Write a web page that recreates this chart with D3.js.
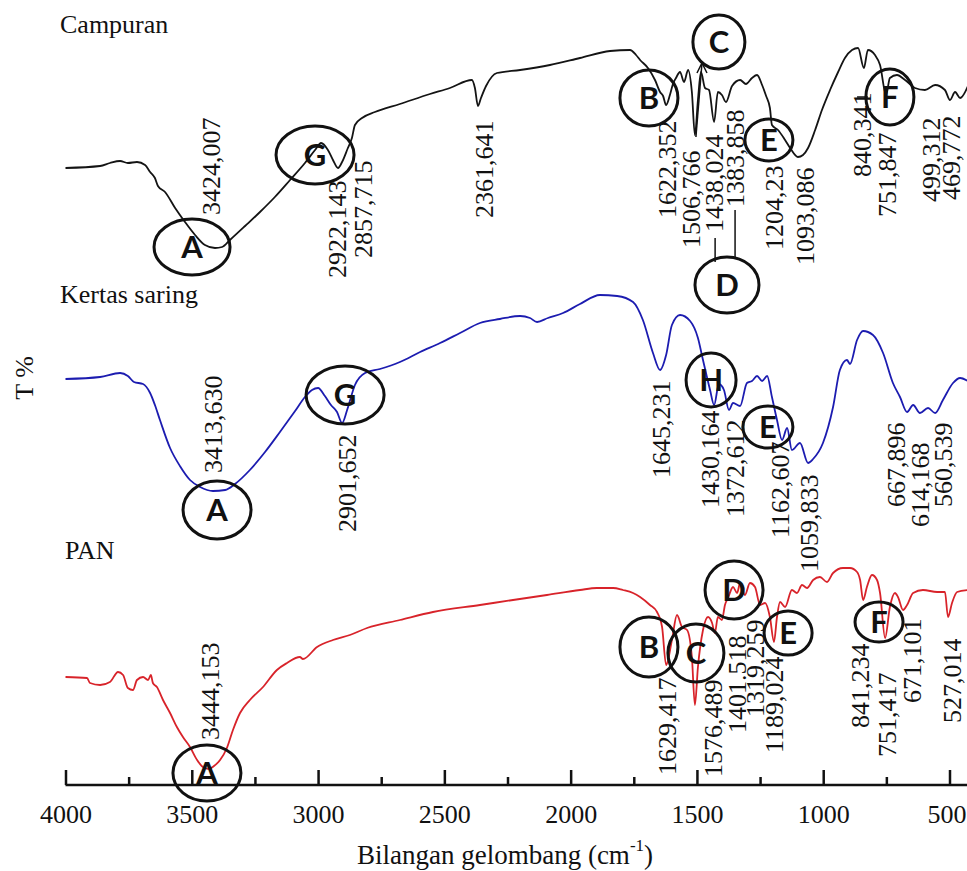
<!DOCTYPE html>
<html>
<head>
<meta charset="utf-8">
<script src="https://cdn.jsdelivr.net/npm/d3@7/dist/d3.min.js"></script>
<style>
  html, body { margin: 0; padding: 0; background: #fff; }
  svg { display: block; }
</style>
</head>
<body>
<div id="chart"></div>
<script>
// ---------------- DATA ----------------
const majorTicks = [4000, 3500, 3000, 2500, 2000, 1500, 1000, 500];
const minorTicks = [3750, 3250, 2750, 2250, 1750, 1250, 750];
const seriesNames = ["Campuran", "Kertas saring", "PAN"];

// Campuran (black) : wavenumber (cm-1) and transmittance (arbitrary, stacked)
const campuranWn = [4000,3863,3824,3784,3753,3717,3685,3665,3646,3634,3606,3566,3527,3487,3448,3408,3380,3349,3289,3230,3171,3111,3052,3012,2988,2961,2941,2921,2905,2882,2866,2854,2826,2775,2676,2557,2478,2391,2379,2367,2355,2335,2292,2200,2082,1963,1844,1765,1741,1725,1694,1666,1646,1634,1622,1607,1595,1583,1567,1551,1535,1520,1508,1496,1484,1468,1452,1432,1417,1401,1385,1361,1329,1306,1282,1262,1242,1226,1211,1203,1179,1151,1131,1100,1080,1060,1032,1005,973,941,914,886,862,839,823,795,775,751,736,708,676,637,597,557,518,498,478,458,427];
const campuranT  = [617,619,622,624,622,623,620,613,607,599,593,577,563,550,540,537,538,545,559,573,588,605,622,635,642,635,625,617,623,637,647,660,667,673,681,691,697,705,697,679,687,699,712,715,720,727,734,735,730,725,717,705,693,689,680,690,701,707,713,703,715,693,650,685,713,697,695,663,693,690,683,699,705,701,707,710,700,689,677,660,655,645,637,628,630,637,655,675,695,713,727,735,737,717,735,730,720,690,707,710,705,697,695,700,695,685,693,687,699];

// Kertas saring (blue)
const kertasWn = [4000,3863,3784,3753,3729,3693,3665,3646,3626,3586,3547,3507,3467,3416,3368,3329,3270,3210,3151,3091,3052,3024,3000,2973,2949,2925,2905,2885,2854,2814,2755,2676,2596,2517,2438,2359,2280,2200,2161,2133,2090,2030,1963,1884,1816,1753,1714,1674,1646,1622,1599,1567,1527,1496,1476,1448,1432,1413,1393,1373,1357,1329,1302,1282,1262,1242,1222,1203,1183,1163,1143,1124,1092,1060,1040,1001,961,934,906,894,866,842,803,763,724,696,668,644,617,585,557,526,486,458,427];
const kertasT  = [406,408,412,409,403,401,392,380,365,337,319,305,298,294,295,301,315,333,353,374,388,395,397,389,380,373,362,375,400,412,416,423,433,442,452,462,466,469,467,463,467,472,481,490,489,483,465,432,415,430,460,470,464,447,425,395,380,401,395,375,382,379,402,404,409,404,409,388,365,345,357,335,342,322,326,342,378,415,425,421,445,454,450,432,402,388,373,380,372,377,372,385,402,407,404];

// PAN (red)
const panWn = [4000,3915,3903,3863,3824,3792,3772,3753,3733,3717,3693,3673,3662,3654,3638,3614,3586,3559,3535,3507,3479,3456,3432,3412,3388,3361,3337,3309,3270,3218,3163,3123,3072,3060,3004,2941,2874,2806,2676,2545,2359,2228,2094,1963,1896,1832,1793,1753,1725,1686,1658,1638,1622,1599,1579,1559,1539,1520,1508,1496,1476,1456,1440,1429,1417,1401,1389,1377,1357,1341,1329,1310,1290,1270,1250,1230,1211,1195,1183,1171,1151,1124,1104,1084,1064,1040,1013,985,961,922,894,866,854,842,827,807,787,775,755,736,716,704,684,668,644,605,549,518,506,490,470,427];
const panT  = [108,107,102,100,103,113,110,97,95,105,108,105,110,102,98,85,72,58,48,38,25,18,16,19,25,37,55,72,85,98,115,122,128,126,138,145,150,157,165,173,180,185,190,195,197,197,195,192,188,180,173,158,120,145,170,158,155,128,80,118,155,168,162,152,168,165,180,187,198,192,202,190,202,198,180,182,168,143,168,183,178,195,192,200,197,205,208,203,212,217,217,213,205,185,198,210,205,192,147,178,192,188,175,180,192,195,193,193,168,182,193,195];

// Peak labels: [text, wavenumber, transmittance at label foot]
const campuranPeaks = [["3424,007",3420,570],["2922,143",2925,507],["2857,715",2822,527],["2361,641",2343,567],["1622,352",1618,567],["1506,766",1520,537],["1438,024",1429,553],["1383,858",1349,578],["1204,23",1191,535],["1093,086",1072,520],["840,341",846,608],["751,847",744,568],["499,312",572,583],["469,772",492,585]];
const kertasPeaks = [["3413,630",3416,312],["2901,652",2885,253],["1645,231",1642,307],["1430,164",1448,277],["1372,612",1349,268],["1162,607",1171,247],["1059,833",1056,213],["667,896",708,278],["614,168",613,258],["560,539",522,278]];
const panPeaks = [["3444,153",3424,45],["1629,417",1618,10],["1576,489",1436,8],["1401.518",1341,52],["1319,259",1270,68],["1189,024",1191,32],["841,234",854,57],["751,417",747,28],["671,101",648,82],["527,014",490,62]];

// Group markers: [letter, wavenumber, transmittance, rx, ry]
const campuranMarks = [["A",3499,538,38,28],["G",3012,630,39,29],["B",1690,687,29,28],["C",1413,743,26,27],["D",1381,500,32,28],["E",1215,645,24,21],["F",736,688,24,28]];
const kertasMarks = [["G",2893,390,39,29],["A",3400,275,34,29],["H",1444,405,25,27],["E",1219,358,25,21]];
const panMarks = [["A",3440,12,34,28],["B",1690,138,29,30],["C",1504,132,28,29],["D",1353,195,29,29],["E",1139,152,24,22],["F",779,163,24,20]];

// Leader lines: [wn1, T1, wn2, T2]
const leaders = [[1480,722,1504,648],[1428,547,1428,523],[1349,575,1349,527],[866,688,823,688]];

// ---------------- DRAW ----------------
const W = 967, H = 871;
const serif = "'Liberation Serif', 'Times New Roman', serif";
const sans = "Lato, 'Open Sans', sans-serif";

const svg = d3.select("#chart").append("svg")
  .attr("width", W).attr("height", H).attr("viewBox", `0 0 ${W} ${H}`);

const x = d3.scaleLinear().domain([4000, 500]).range([65.5, 949.5]);
const y = d3.scaleLinear().domain([0, 785]).range([785, 0]);

const line = d3.line()
  .x(d => x(d[0])).y(d => y(d[1]))
  .curve(d3.curveMonotoneX);

const traces = [
  {name: seriesNames[0], wn: campuranWn, t: campuranT, color: "#141414"},
  {name: seriesNames[1], wn: kertasWn, t: kertasT, color: "#1c1cb0"},
  {name: seriesNames[2], wn: panWn, t: panT, color: "#d8232a"}
];

traces.forEach(tr => {
  svg.append("path")
    .datum(tr.wn.map((w, i) => [w, tr.t[i]]))
    .attr("fill", "none")
    .attr("stroke", tr.color)
    .attr("stroke-width", 1.8)
    .attr("stroke-linejoin", "round")
    .attr("d", line);
});

// series names
const nameY = [33, 303, 559];
const nameX = [60, 60, 65];
seriesNames.forEach((n, i) => {
  svg.append("text").attr("x", nameX[i]).attr("y", nameY[i])
    .attr("font-family", serif).attr("font-size", 26).attr("fill", "#111").text(n);
});

// peak labels
[campuranPeaks, kertasPeaks, panPeaks].forEach(list => {
  list.forEach(p => {
    const px = x(p[1]) + 8.5, py = y(p[2]);
    svg.append("text")
      .attr("transform", `translate(${px},${py}) rotate(-90)`)
      .attr("font-family", serif).attr("font-size", 26).attr("fill", "#111")
      .text(p[0]);
  });
});

// leader lines
leaders.forEach(l => {
  svg.append("line")
    .attr("x1", x(l[0])).attr("y1", y(l[1]))
    .attr("x2", x(l[2])).attr("y2", y(l[3]))
    .attr("stroke", "#111").attr("stroke-width", 1.5);
});
// arrow head on the C leader (pointing to circle)
{
  const ax = x(leaders[0][0]), ay = y(leaders[0][1]);
  svg.append("path")
    .attr("d", `M${ax-5},${ay+10} L${ax},${ay} L${ax+5},${ay+10}`)
    .attr("fill", "none").attr("stroke", "#111").attr("stroke-width", 1.5);
}

// group markers
[campuranMarks, kertasMarks, panMarks].forEach(list => {
  list.forEach(m => {
    const cx = x(m[1]), cy = y(m[2]);
    svg.append("ellipse")
      .attr("cx", cx).attr("cy", cy).attr("rx", m[3]).attr("ry", m[4])
      .attr("fill", "none").attr("stroke", "#111").attr("stroke-width", 3);
    svg.append("text")
      .attr("x", cx).attr("y", cy + 11)
      .attr("text-anchor", "middle")
      .attr("font-family", sans).attr("font-weight", "bold")
      .attr("font-size", 31).attr("fill", "#111")
      .text(m[0]);
  });
});

// x axis
const axisY = 785;
svg.append("line")
  .attr("x1", x(4000)).attr("x2", x(420))
  .attr("y1", axisY).attr("y2", axisY)
  .attr("stroke", "#111").attr("stroke-width", 2.5);

const gMajor = svg.append("g").attr("transform", `translate(0,${axisY})`)
  .call(d3.axisBottom(x).tickValues(majorTicks).tickSize(-15).tickSizeOuter(0).tickFormat(d3.format("d")));
gMajor.select(".domain").remove();
gMajor.selectAll(".tick line").attr("stroke", "#111").attr("stroke-width", 2.5);
gMajor.selectAll(".tick text")
  .attr("y", 38).attr("dy", 0)
  .attr("font-family", serif).attr("font-size", 26).attr("fill", "#111");
// keep the last label inside the page edge
gMajor.selectAll(".tick text").filter(d => d === 500)
  .attr("text-anchor", "end").attr("x", W - 950.5);

const gMinor = svg.append("g").attr("transform", `translate(0,${axisY})`)
  .call(d3.axisBottom(x).tickValues(minorTicks).tickSize(-8).tickSizeOuter(0).tickFormat(""));
gMinor.select(".domain").remove();
gMinor.selectAll(".tick line").attr("stroke", "#111").attr("stroke-width", 2.5);

// axis titles
const xt = svg.append("text")
  .attr("x", 505).attr("y", 864)
  .attr("text-anchor", "middle")
  .attr("font-family", serif).attr("font-size", 27).attr("fill", "#111");
xt.append("tspan").text("Bilangan gelombang (cm");
xt.append("tspan").attr("dy", -13).attr("font-size", 17).text("-1");
xt.append("tspan").attr("dy", 13).text(")");

svg.append("text")
  .attr("transform", "translate(33,378) rotate(-90)")
  .attr("text-anchor", "middle")
  .attr("font-family", serif).attr("font-size", 26).attr("fill", "#111")
  .text("T %");
</script>
</body>
</html>
